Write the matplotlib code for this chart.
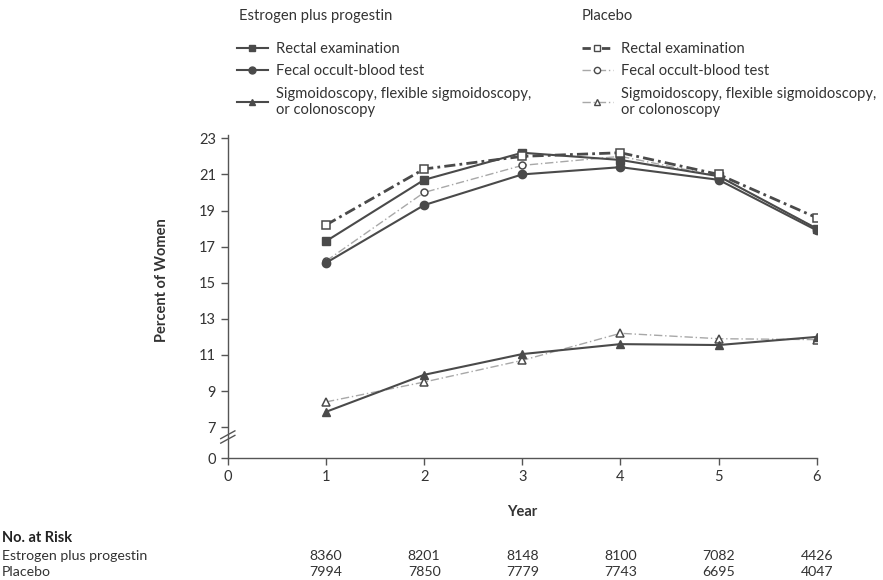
import numpy as np
import matplotlib
matplotlib.use("Agg")
import matplotlib.pyplot as plt
from matplotlib.lines import Line2D

plt.rcParams["font.family"] = ["Lato", "DejaVu Sans"]

# %%
years = [1, 2, 3, 4, 5, 6]
ep_rectal = [17.3, 20.7, 22.2, 21.8, 20.9, 18.0]
ep_fecal = [16.1, 19.3, 21.0, 21.4, 20.7, 17.9]
ep_sigmo = [7.85, 9.9, 11.05, 11.6, 11.55, 12.0]
pl_rectal = [18.2, 21.3, 22.0, 22.2, 21.0, 18.6]
pl_fecal = [16.2, 20.0, 21.5, 22.0, 20.9, 18.0]
pl_sigmo = [8.4, 9.5, 10.7, 12.2, 11.9, 11.85]

risk_ep = [8360, 8201, 8148, 8100, 7082, 4426]
risk_pl = [7994, 7850, 7779, 7743, 6695, 4047]

yticks = [0, 7, 9, 11, 13, 15, 17, 19, 21, 23]
xticks = [0, 1, 2, 3, 4, 5, 6]

# %%
# squash the 0-7 part of the y axis (broken axis)
k = 0.244


def fwd(y):
    y = np.asarray(y, dtype=float)
    return np.where(y >= 7, y, 7 - (7 - y) * k)


def inv(v):
    v = np.asarray(v, dtype=float)
    return np.where(v >= 7, v, 7 - (7 - v) / k)


dark = "#4a4a4a"
light = "#a8a8a8"
txt = "#333333"

fig = plt.figure(figsize=(8.83, 5.8), dpi=100)
ax = fig.add_axes([0.258, 0.2103, 0.667, 0.5575])
ax.set_yscale("function", functions=(fwd, inv))

ax.plot(years, pl_fecal, color=light, lw=1, ls=(0, (6, 2, 1, 2)),
        marker="o", ms=5, mfc="white", mec=dark, mew=1.1, zorder=2)
ax.plot(years, pl_sigmo, color=light, lw=1, ls=(0, (6, 2, 1, 2)),
        marker="^", ms=5.5, mfc="white", mec=dark, mew=1.1, zorder=2)
ax.plot(years, ep_fecal, color=dark, lw=1.5, marker="o", ms=6, zorder=3)
ax.plot(years, ep_sigmo, color=dark, lw=1.5, marker="^", ms=6, zorder=3)
ax.plot(years, ep_rectal, color=dark, lw=1.5, marker="s", ms=6, zorder=3)
ax.plot(years, pl_rectal, color=dark, lw=2, ls=(0, (4, 1.5, 1, 1.5)),
        marker="s", ms=5.5, mfc="white", mec=dark, mew=1.1, zorder=4)

ax.set_xlim(0, 6)
ax.set_ylim(0, 23.2)
ax.set_xticks(xticks)
ax.set_yticks(yticks)
ax.spines["top"].set_visible(False)
ax.spines["right"].set_visible(False)
for s in ["left", "bottom"]:
    ax.spines[s].set_color("#555555")
    ax.spines[s].set_linewidth(1)
ax.tick_params(colors="#555555", labelcolor=txt, labelsize=10.5,
               length=5, width=1, direction="out")

# break marks on the y axis
for yy in (0.058, 0.072):
    ax.plot([-0.012, 0.012], [yy - 0.012, yy + 0.012], transform=ax.transAxes,
            color="#555555", lw=1, clip_on=False)

ax.set_ylabel("Percent of Women", fontsize=10.5, fontweight="bold", color=txt)
ax.yaxis.set_label_coords(-0.1, 0.55)
ax.set_xlabel("Year", fontsize=10.5, fontweight="bold", color=txt)
ax.xaxis.set_label_coords(0.5, -0.145)

# %%
lab = ["Rectal examination", "Fecal occult-blood test",
       "Sigmoidoscopy, flexible sigmoidoscopy,\nor colonoscopy"]
h_ep = [Line2D([], [], color=dark, lw=1.5, marker=m, ms=5) for m in ["s", "o", "^"]]
h_pl = [
    Line2D([], [], color=dark, lw=2, ls=(0, (3, 1.5, 1, 1.5)), marker="s", ms=5,
           mfc="white", mec=dark),
    Line2D([], [], color=light, lw=1, ls=(0, (6, 2, 1, 2)), marker="o", ms=4.5,
           mfc="white", mec=dark),
    Line2D([], [], color=light, lw=1, ls=(0, (6, 2, 1, 2)), marker="^", ms=5,
           mfc="white", mec=dark),
]
kw = dict(frameon=False, fontsize=10.6, loc="upper left",
          handlelength=2.1, handletextpad=0.55, labelspacing=0.58,
          borderpad=0, borderaxespad=0, labelcolor=txt)
fig.text(0.271, 0.973, "Estrogen plus progestin", fontsize=10.6, color=txt,
         va="center")
fig.text(0.659, 0.973, "Placebo", fontsize=10.6, color=txt, va="center")
fig.legend(h_ep, lab, bbox_to_anchor=(0.268, 0.928), **kw)
fig.legend(h_pl, lab, bbox_to_anchor=(0.659, 0.928), **kw)

# %%
# number at risk table
tr = matplotlib.transforms.blended_transform_factory(ax.transData, fig.transFigure)
fig.text(0.002, 0.072, "No. at Risk", fontsize=10.5, fontweight="bold",
         color="#222222", va="center")
fig.text(0.002, 0.041, "Estrogen plus progestin", fontsize=10.2, color=txt,
         va="center")
fig.text(0.002, 0.013, "Placebo", fontsize=10.2, color=txt, va="center")
for x, a, b in zip(years, risk_ep, risk_pl):
    ax.text(x, 0.041, str(a), transform=tr, ha="center", va="center",
            fontsize=10.2, color=txt)
    ax.text(x, 0.013, str(b), transform=tr, ha="center", va="center",
            fontsize=10.2, color=txt)

fig.savefig("out.png", dpi=100)
